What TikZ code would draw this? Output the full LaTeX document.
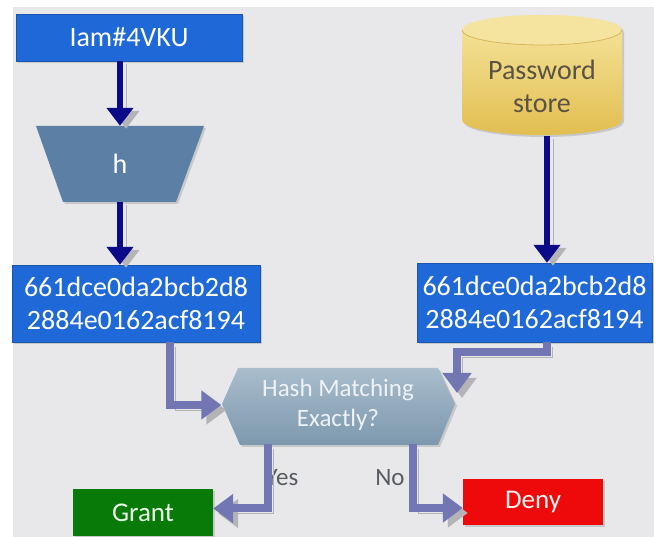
\documentclass[tikz,border=0pt]{standalone}
\usepackage{fontspec}
\setmainfont{Carlito}
\usetikzlibrary{arrows.meta,shadows,calc}
\definecolor{bgc}{HTML}{E8E8EA}
\definecolor{boxblue}{HTML}{1F68D8}
\definecolor{boxedge}{HTML}{1A55B0}
\definecolor{trapc}{HTML}{5C7FA6}
\definecolor{navyc}{HTML}{0B0B8A}
\definecolor{connc}{HTML}{7276B2}
\definecolor{shc}{HTML}{B4B4B8}
\definecolor{hexT}{HTML}{A9BDCC}
\definecolor{hexB}{HTML}{7D98AE}
\definecolor{hexText}{HTML}{EEF2F6}
\definecolor{cylL}{HTML}{F6E6A0}
\definecolor{cylD}{HTML}{E2BE50}
\definecolor{cylTop}{HTML}{F5E4A0}
\definecolor{cylEdge}{HTML}{D8B65A}
\definecolor{dbtext}{HTML}{5A5242}
\definecolor{grantc}{HTML}{077A07}
\definecolor{denyc}{HTML}{EE0A0A}
\definecolor{lblc}{HTML}{585C62}
\tikzset{
  boxnode/.style={rectangle, inner sep=0pt, align=center, text=white,
    font=\fontsize{28}{33}\selectfont,
    drop shadow={shadow xshift=2pt,shadow yshift=-2pt,opacity=0.3}},
  navyarrow/.style={draw=navyc, line width=6pt, -{Triangle[width=26pt,length=18pt]},
    preaction={draw=shc, transform canvas={xshift=6pt,yshift=-3pt}}},
  conn/.style={draw=connc, line width=8pt, -{Triangle[width=28pt,length=20pt]},
    preaction={draw=shc, transform canvas={xshift=5pt,yshift=-5pt}}},
  lbl/.style={text=lblc, font=\fontsize{25}{30}\selectfont, inner sep=0pt},
  shapefill/.style={drop shadow={shadow xshift=2pt,shadow yshift=-2pt,opacity=0.3}}
}
\begin{document}
\begin{tikzpicture}[x=1pt,y=-1pt]
\useasboundingbox (0,0) rectangle (654,537);
\fill[white] (0,0) rectangle (654,537);
\fill[bgc] (13,7) rectangle (654,537);

% cylinder (password store)
\path[shapefill, top color=cylL, bottom color=cylD]
  (462,30) -- (462,120) arc[start angle=180,end angle=360,x radius=80pt,y radius=15pt]
  -- (622,30) arc[start angle=0,end angle=180,x radius=80pt,y radius=15pt] -- cycle;
\fill[cylTop] (542,30) ellipse [x radius=80pt, y radius=15pt];
\draw[cylEdge, line width=0.8pt] (462,30) arc[start angle=180,end angle=360,x radius=80pt,y radius=15pt];
\node[text=dbtext, align=center, font=\fontsize{28}{33}\selectfont, inner sep=0pt,
      minimum width=160pt, minimum height=98pt] (db) at (542,86.5) {Password\\store};

% trapezoid h
\path[shapefill, fill=trapc] (36,126) -- (204,126) -- (176,202) -- (63,202) -- cycle;
\node[text=white, font=\fontsize{28}{33}\selectfont, inner sep=0pt,
      minimum width=168pt, minimum height=76pt] (h) at (120,164) {h};

% hexagon decision
\path[shapefill, top color=hexT, bottom color=hexB]
  (238,368) -- (438,368) -- (455,404) -- (438,445) -- (240,445) -- (222,404) -- cycle;
\node[text=hexText, align=center, font=\fontsize{25}{30}\selectfont, inner sep=0pt,
      minimum width=233pt, minimum height=77pt] (dec) at (338,405) {Hash Matching\\Exactly?};

% boxes
\node[boxnode, fill=boxblue, draw=boxedge, minimum width=226pt, minimum height=47pt]
  (top) at (129,37.5) {Iam\#4VKU};
\node[boxnode, fill=boxblue, draw=boxedge, minimum width=248pt, minimum height=77pt]
  (lh) at (136,303.5) {661dce0da2bcb2d8\\2884e0162acf8194};
\node[boxnode, fill=boxblue, draw=boxedge, minimum width=235pt, minimum height=79pt]
  (rh) at (534.5,302.5) {661dce0da2bcb2d8\\2884e0162acf8194};
\node[boxnode, fill=grantc, text=white!92!green, font=\fontsize{27}{32}\selectfont,
      minimum width=140pt, minimum height=47pt] (grant) at (143,512.5) {Grant};
\node[boxnode, fill=denyc, text=white!95!red, font=\fontsize{27}{32}\selectfont,
      minimum width=140pt, minimum height=46pt] (deny) at (533,502) {Deny};

% labels
\node[lbl] (yes) at (282,478) {Yes};
\node[lbl] (no) at (390,478) {No};

% navy arrows
\draw[navyarrow] (top.south -| h.north) -- (h.north);
\draw[navyarrow] (h.south) -- (h.south |- lh.north);
\draw[navyarrow] ([xshift=5pt]db.south) -- ([xshift=5pt]db.south |- rh.north);

% connectors
\coordinate (rtip) at (457,393);
\draw[conn] ([xshift=34pt]lh.south) |- (dec.west);
\draw[conn] ([xshift=12.5pt]rh.south) -- ++(0,10) -| (rtip);
\draw[conn] ([xshift=-70pt]dec.south) |- ([yshift=4pt]grant.east);
\draw[conn] ([xshift=75pt]dec.south) |- ([yshift=-6pt]deny.west);
\end{tikzpicture}
\end{document}
